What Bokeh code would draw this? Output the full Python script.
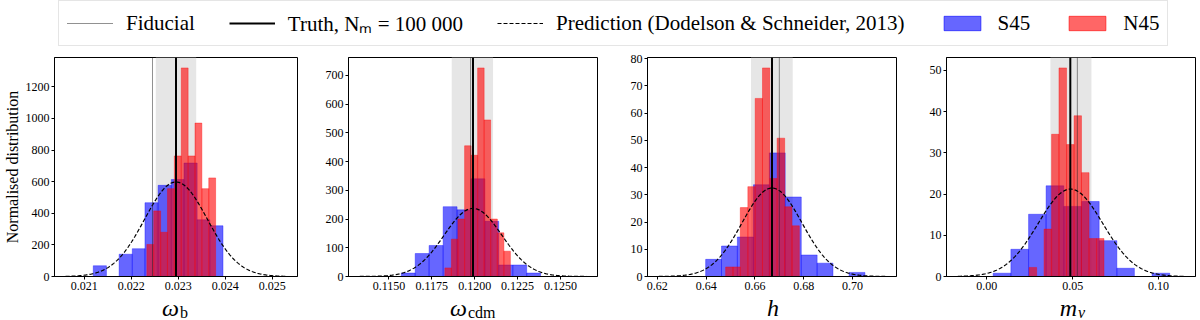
import numpy as np
from bokeh.plotting import figure
from bokeh.models import (Range1d, FixedTicker, PrintfTickFormatter, Span, BoxAnnotation,
                          Legend, LegendItem)
from bokeh.core.properties import value
from bokeh.layouts import column, row
from bokeh.embed import file_html
from bokeh.resources import INLINE

# ---------------- data ----------------
label_main = ["ω", "ω", "h", "m"]
label_sub = ["b", "cdm", "", "ν"]

# S45 histograms (bin edges, normalised heights)
s45_edges_wb = [0.02119, 0.02147, 0.02174, 0.02202, 0.02229, 0.02257, 0.02285, 0.02312, 0.02340, 0.02367, 0.02395]
s45_hist_wb = [68, 0, 141, 176, 467, 577, 614, 718, 359, 321]
s45_edges_wcdm = [0.11572, 0.11653, 0.11734, 0.11816, 0.11897, 0.11978, 0.12059, 0.12140, 0.12222, 0.12303, 0.12384]
s45_hist_wcdm = [12, 80, 108, 243, 232, 340, 192, 40, 40, 12]
s45_edges_h = [0.6398, 0.6463, 0.6528, 0.6594, 0.6659, 0.6724, 0.6790, 0.6855, 0.6920, 0.6986, 0.7051]
s45_hist_h = [6.3, 11.2, 14.5, 33.7, 45.4, 29.2, 7.9, 4.9, 0, 1.5]
s45_edges_mnu = [0.0037, 0.0140, 0.0243, 0.0345, 0.0448, 0.0551, 0.0654, 0.0757, 0.0859, 0.0962, 0.1065]
s45_hist_mnu = [0.8, 6.6, 15.1, 22.0, 17.0, 18.2, 8.7, 2.0, 0, 0.8]

# N45 histograms
n45_edges_wb = [0.022330, 0.022476, 0.022623, 0.022769, 0.022915, 0.023062, 0.023208, 0.023354, 0.023500, 0.023647, 0.023793]
n45_hist_wb = [203, 415, 280, 556, 763, 1320, 763, 971, 556, 624]
n45_edges_wcdm = [0.11826, 0.11864, 0.11902, 0.11941, 0.11979, 0.12017, 0.12055, 0.12093, 0.12132, 0.12170, 0.12208]
n45_hist_wcdm = [30, 130, 200, 455, 422, 726, 545, 200, 152, 88]
n45_edges_h = [0.6480, 0.6510, 0.6540, 0.6571, 0.6601, 0.6631, 0.6661, 0.6691, 0.6722, 0.6752, 0.6782]
n45_hist_h = [3.5, 3.5, 25.3, 33.0, 65.4, 76.6, 36.0, 50.8, 25.6, 18.6]
n45_edges_mnu = [0.0246, 0.0290, 0.0333, 0.0377, 0.0420, 0.0464, 0.0508, 0.0551, 0.0595, 0.0639, 0.0682]
n45_hist_mnu = [2.2, 0, 11.5, 34.5, 50.6, 32.0, 39.0, 25.2, 9.2, 9.2]

fiducial = [0.02245, 0.11976, 0.6700, 0.0527]
truth = [0.02295, 0.11990, 0.6670, 0.0486]
band_lo = [0.02252, 0.11866, 0.6584, 0.0370]
band_hi = [0.02338, 0.12107, 0.6755, 0.0609]

# Gaussian prediction (Dodelson & Schneider 2013)
pred_mean = [0.02295, 0.11990, 0.6670, 0.0487]
pred_sigma = [0.000667, 0.001683, 0.01228, 0.01882]
pred_x_lo = [0.02060, 0.11330, 0.6206, -0.0169]
pred_x_hi = [0.02530, 0.12650, 0.7134, 0.1149]

xticks = [[0.021, 0.022, 0.023, 0.024, 0.025],
          [0.1150, 0.1175, 0.1200, 0.1225, 0.1250],
          [0.62, 0.64, 0.66, 0.68, 0.70],
          [0.00, 0.05, 0.10]]
xtick_fmt = ["%.3f", "%.4f", "%.2f", "%.2f"]
yticks = [[0, 200, 400, 600, 800, 1000, 1200],
          [0, 100, 200, 300, 400, 500, 600, 700],
          [0, 10, 20, 30, 40, 50, 60, 70, 80],
          [0, 10, 20, 30, 40, 50]]

legend_labels = ["Fiducial", "Truth, Nₘ = 100 000", "Prediction (Dodelson & Schneider, 2013)", "S45", "N45"]

s45_edges = [s45_edges_wb, s45_edges_wcdm, s45_edges_h, s45_edges_mnu]
s45_hist = [s45_hist_wb, s45_hist_wcdm, s45_hist_h, s45_hist_mnu]
n45_edges = [n45_edges_wb, n45_edges_wcdm, n45_edges_h, n45_edges_mnu]
n45_hist = [n45_hist_wb, n45_hist_wcdm, n45_hist_h, n45_hist_mnu]

# ---------------- styling / layout ----------------
SERIF = "Liberation Serif"
BLUE = "blue"
RED = "red"
widths = [300, 300, 299, 298]
lborders = [50, 48, 47, 47]
rborders = [3, 3, 3, 2]
TOP_B, FRAME_H, BOT_B = 9, 219, 20
PANEL_H = TOP_B + FRAME_H + BOT_B
LEG_H = 48
STRIP_H = 24
sub_shift = [5, -6, 7, 6]
TOTAL_W = sum(widths)


def bars(p, edges, hist, color):
    e = np.asarray(edges)
    h = np.asarray(hist, dtype=float)
    keep = h > 0
    p.quad(left=e[:-1][keep], right=e[1:][keep], top=h[keep], bottom=0,
           fill_color=color, fill_alpha=0.6, line_color=color, line_alpha=0.6, line_width=0.6)


panels = []
for i in range(4):
    x0, x1 = pred_x_lo[i], pred_x_hi[i]
    pad = 0.05 * (x1 - x0)
    ymax = 1.05 * max(max(s45_hist[i]), max(n45_hist[i]))
    p = figure(width=widths[i], height=PANEL_H,
               x_range=Range1d(x0 - pad, x1 + pad), y_range=Range1d(0, ymax),
               output_backend="svg", toolbar_location=None,
               min_border_left=lborders[i], min_border_right=rborders[i],
               min_border_top=TOP_B, min_border_bottom=BOT_B)
    p.grid.visible = False
    p.outline_line_color = "black"
    p.outline_line_width = 1
    p.outline_line_alpha = 1

    for ax in (p.xaxis, p.yaxis):
        ax.major_label_text_font = SERIF
        ax.major_label_text_font_size = "12px"
        ax.major_label_text_color = "black"
        ax.major_tick_out = 3
        ax.major_tick_in = 0
        ax.major_tick_line_color = "black"
        ax.minor_tick_line_color = None
        ax.axis_line_color = "black"
        ax.major_label_standoff = 2
    p.xaxis.ticker = FixedTicker(ticks=xticks[i])
    p.xaxis.formatter = PrintfTickFormatter(format=xtick_fmt[i])
    p.yaxis.ticker = FixedTicker(ticks=yticks[i])
    if i == 0:
        p.yaxis.axis_label = "Normalised distribution"
        p.yaxis.axis_label_text_font = SERIF
        p.yaxis.axis_label_text_font_size = "16px"
        p.yaxis.axis_label_text_font_style = "normal"
        p.yaxis.axis_label_text_color = "black"
        p.yaxis.axis_label_standoff = 2

    p.add_layout(BoxAnnotation(left=band_lo[i], right=band_hi[i], fill_color="#e6e6e6",
                               fill_alpha=1, line_color=None, level="underlay"))
    bars(p, s45_edges[i], s45_hist[i], BLUE)
    bars(p, n45_edges[i], n45_hist[i], RED)

    xs = np.linspace(x0, x1, 400)
    ys = np.exp(-0.5 * ((xs - pred_mean[i]) / pred_sigma[i]) ** 2) / (pred_sigma[i] * np.sqrt(2 * np.pi))
    p.line(xs, ys, line_color="black", line_dash="4 2", line_width=1.2)

    p.add_layout(Span(location=fiducial[i], dimension="height", line_color="#222222",
                      line_dash="1 1", line_width=1))
    p.add_layout(Span(location=truth[i], dimension="height", line_color="black", line_width=2))
    panels.append(p)

# ---------------- x-axis label strip (symbols with subscripts) ----------------
xl = figure(width=TOTAL_W, height=STRIP_H, x_range=Range1d(0, TOTAL_W), y_range=Range1d(0, STRIP_H),
            output_backend="svg", toolbar_location=None, min_border=0,
            x_axis_location=None, y_axis_location=None)
xl.grid.visible = False
xl.outline_line_color = None
centers = []
acc = 0
for i in range(4):
    fw = widths[i] - lborders[i] - rborders[i]
    centers.append(acc + lborders[i] + fw / 2 + sub_shift[i])
    acc += widths[i]
xl.text(x=centers, y=[13] * 4, text=label_main, text_font=value(SERIF), text_font_style="italic",
        text_font_size=value("24px"), text_align="right", text_baseline="middle", text_color="black")
rm = [k for k in range(4) if label_sub[k] and label_sub[k] != "ν"]
it = [k for k in range(4) if label_sub[k] == "ν"]
xl.text(x=[centers[k] + 1 for k in rm], y=[8] * len(rm), text=[label_sub[k] for k in rm],
        text_font=value(SERIF), text_font_size=value("16px"), text_align="left",
        text_baseline="middle", text_color="black")
xl.text(x=[centers[k] + 1 for k in it], y=[8] * len(it), text=[label_sub[k] for k in it],
        text_font=value(SERIF), text_font_style="italic", text_font_size=value("16px"),
        text_align="left", text_baseline="middle", text_color="black")

# ---------------- legend strip ----------------
lf = figure(width=TOTAL_W, height=LEG_H, x_range=Range1d(0, 1), y_range=Range1d(0, 1),
            output_backend="svg", toolbar_location=None, min_border=0,
            x_axis_location=None, y_axis_location=None)
lf.grid.visible = False
lf.outline_line_color = None
# legend proxies (kept outside the visible range of this strip)
r_fid = lf.line(x=[5, 6], y=[5, 6], line_color="#222222", line_dash="1 1", line_width=1)
r_truth = lf.line(x=[5, 6], y=[5, 6], line_color="black", line_width=2)
r_pred = lf.line(x=[5, 6], y=[5, 6], line_color="black", line_dash="4 2", line_width=1.2)
r_s45 = lf.quad(left=[5], right=[6], top=[6], bottom=[5], fill_color=BLUE, fill_alpha=0.6,
                line_color=BLUE, line_alpha=0.6)
r_n45 = lf.quad(left=[5], right=[6], top=[6], bottom=[5], fill_color=RED, fill_alpha=0.6,
                line_color=RED, line_alpha=0.6)
legend = Legend(items=[LegendItem(label=legend_labels[0], renderers=[r_fid]),
                       LegendItem(label=legend_labels[1], renderers=[r_truth]),
                       LegendItem(label=legend_labels[2], renderers=[r_pred]),
                       LegendItem(label=legend_labels[3], renderers=[r_s45]),
                       LegendItem(label=legend_labels[4], renderers=[r_n45])],
                orientation="horizontal", location=(58, 2),
                glyph_width=46, glyph_height=18, label_standoff=13, spacing=34,
                padding=8, margin=0, label_text_font=SERIF, label_text_font_size="21px",
                label_text_color="black",
                border_line_color="#cccccc", border_line_width=1, background_fill_alpha=1)
lf.add_layout(legend)

layout = column(lf, row(*panels), xl)
open("out.html", "w").write(file_html(layout, INLINE))
